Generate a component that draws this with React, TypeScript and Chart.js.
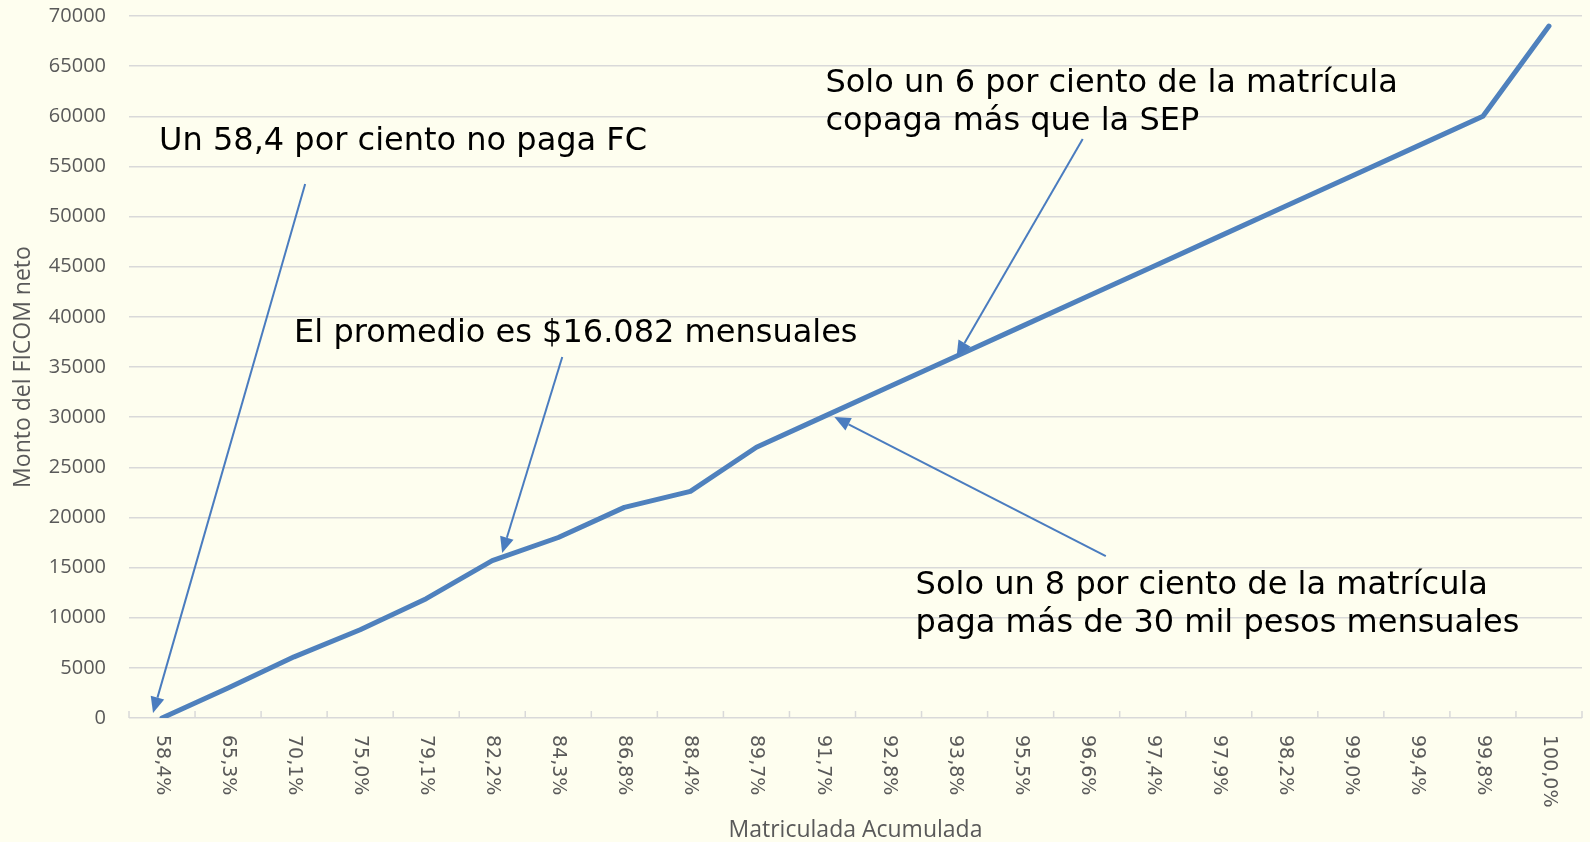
import React, { useEffect, useRef } from "react";
import { Chart, registerables } from "chart.js";

Chart.register(...registerables);

// ---- Data ----
const categories = [
  "58,4%", "65,3%", "70,1%", "75,0%", "79,1%", "82,2%", "84,3%", "86,8%",
  "88,4%", "89,7%", "91,7%", "92,8%", "93,8%", "95,5%", "96,6%", "97,4%",
  "97,9%", "98,2%", "99,0%", "99,4%", "99,8%", "100,0%",
];
const montoValues = [
  0, 3000, 6100, 8800, 11900, 15700, 18000, 21000,
  22600, 27000, 30000, 33000, 36000, 39000, 42000, 45000,
  48000, 51000, 54000, 57000, 60000, 69000,
];
const yMin = 0;
const yMax = 70000;
const yStep = 5000;
const xAxisTitle = "Matriculada Acumulada";
const yAxisTitle = "Monto del FICOM neto";

// Annotation texts (lines)
const noteTexts = [
  ["Un 58,4 por ciento no paga FC"],
  ["El promedio es $16.082 mensuales"],
  ["Solo un 6 por ciento de la matrícula", "copaga más que la SEP"],
  ["Solo un 8 por ciento de la matrícula", "paga más de 30 mil pesos mensuales"],
];
// Annotation anchors in data space: [category index, value]
const noteAnchors = [
  [-0.045, 56640],
  [2.0, 37490],
  [10.045, 62420],
  [11.41, 12365],
];
const arrowTails = [
  [2.167, 53250],
  [6.06, 36000],
  [13.94, 57735],
  [14.29, 16150],
];
const arrowTips = [
  [-0.136, 500],
  [5.15, 16450],
  [12.03, 36000],
  [10.18, 30015],
];

// ---- Styles ----
const BG = "#FEFEEF";
const LINE_COLOR = "#4F81BD";
const ARROW_COLOR = "#4A7CBF";
const GRID_COLOR = "#D9D9D9";
const AXIS_TEXT = "#595959";

function drawArrow(ctx: CanvasRenderingContext2D, x1: number, y1: number, x2: number, y2: number) {
  const ang = Math.atan2(y2 - y1, x2 - x1);
  const L = 16;
  const W = 7;
  const bx = x2 - L * Math.cos(ang);
  const by = y2 - L * Math.sin(ang);
  ctx.beginPath();
  ctx.moveTo(x1, y1);
  ctx.lineTo(bx, by);
  ctx.stroke();
  ctx.beginPath();
  ctx.moveTo(x2, y2);
  ctx.lineTo(bx + W * Math.sin(ang), by - W * Math.cos(ang));
  ctx.lineTo(bx - W * Math.sin(ang), by + W * Math.cos(ang));
  ctx.closePath();
  ctx.fill();
}

const overlayPlugin = {
  id: "overlay",
  beforeDatasetsDraw(chart: any) {
    const { ctx, scales } = chart;
    const x = scales.x;
    const y = scales.y;
    const y0 = y.getPixelForValue(0);
    ctx.save();
    ctx.strokeStyle = GRID_COLOR;
    ctx.lineWidth = 1.5;
    for (let k = 0; k <= categories.length; k++) {
      const px = x.getPixelForValue(k - 0.5);
      ctx.beginPath();
      ctx.moveTo(px, y0);
      ctx.lineTo(px, y0 - 7);
      ctx.stroke();
    }
    ctx.restore();
  },
  afterDraw(chart: any) {
    const { ctx, chartArea, scales } = chart;
    const x = scales.x;
    const y = scales.y;
    ctx.save();
    // rotated category labels (reading top to bottom)
    ctx.fillStyle = AXIS_TEXT;
    ctx.font = '19px "DejaVu Sans"';
    ctx.textAlign = "left";
    ctx.textBaseline = "middle";
    categories.forEach((c, i) => {
      ctx.save();
      ctx.translate(x.getPixelForValue(i), chartArea.bottom + 17);
      ctx.rotate(Math.PI / 2);
      ctx.fillText(c, 0, 0);
      ctx.restore();
    });
    // arrows
    ctx.strokeStyle = ARROW_COLOR;
    ctx.fillStyle = ARROW_COLOR;
    ctx.lineWidth = 2;
    arrowTails.forEach((t, i) => {
      const tip = arrowTips[i];
      drawArrow(
        ctx,
        x.getPixelForValue(t[0]),
        y.getPixelForValue(t[1]),
        x.getPixelForValue(tip[0]),
        y.getPixelForValue(tip[1])
      );
    });
    // notes
    ctx.fillStyle = "#000000";
    ctx.font = '32px "DejaVu Sans"';
    ctx.textAlign = "left";
    ctx.textBaseline = "alphabetic";
    noteTexts.forEach((lines, i) => {
      const a = noteAnchors[i];
      const px = x.getPixelForValue(a[0]);
      const py = y.getPixelForValue(a[1]);
      lines.forEach((ln, j) => ctx.fillText(ln, px, py + j * 38));
    });
    ctx.restore();
  },
};

export default function App() {
  const canvasRef = useRef<HTMLCanvasElement | null>(null);

  useEffect(() => {
    document.body.style.margin = "0";
    document.body.style.background = BG;
    const canvas = canvasRef.current;
    if (!canvas) return;
    const chart = new Chart(canvas, {
      type: "line",
      data: {
        labels: categories,
        datasets: [
          {
            data: montoValues,
            borderColor: LINE_COLOR,
            backgroundColor: LINE_COLOR,
            borderWidth: 5,
            borderCapStyle: "round",
            borderJoinStyle: "round",
            pointRadius: 0,
            tension: 0,
            fill: false,
          },
        ],
      },
      options: {
        responsive: true,
        maintainAspectRatio: false,
        animation: false,
        layout: { padding: { top: 16, right: 8, left: 0, bottom: 0 } },
        plugins: {
          legend: { display: false },
          tooltip: { enabled: false },
        },
        scales: {
          x: {
            type: "category",
            offset: true,
            grid: { display: false },
            border: { display: false },
            ticks: { display: false },
            title: {
              display: true,
              text: xAxisTitle,
              color: AXIS_TEXT,
              font: { family: "Open Sans", size: 23, lineHeight: 1 },
              padding: { top: 0, bottom: 0 },
            },
            afterFit: (s: any) => {
              s.height = 124;
              s.paddingLeft = 0;
              s.paddingRight = 0;
            },
          },
          y: {
            min: yMin,
            max: yMax,
            ticks: {
              stepSize: yStep,
              color: AXIS_TEXT,
              font: { family: "Open Sans", size: 20 },
              padding: 23,
              callback: (v: any) => String(v),
            },
            grid: { color: GRID_COLOR, lineWidth: 1.5, drawTicks: false },
            border: { display: false },
            title: {
              display: true,
              text: yAxisTitle,
              color: AXIS_TEXT,
              font: { family: "Open Sans", size: 23, lineHeight: 1 },
              padding: { top: 12, bottom: 0 },
            },
            afterFit: (s: any) => {
              s.width = 129;
              s.paddingTop = 0;
              s.paddingBottom = 0;
            },
          },
        },
      },
      plugins: [overlayPlugin],
    } as any);
    return () => chart.destroy();
  }, []);

  return (
    <div style={{ width: 1590, height: 842, background: BG, position: "relative" }}>
      <canvas ref={canvasRef} />
    </div>
  );
}
